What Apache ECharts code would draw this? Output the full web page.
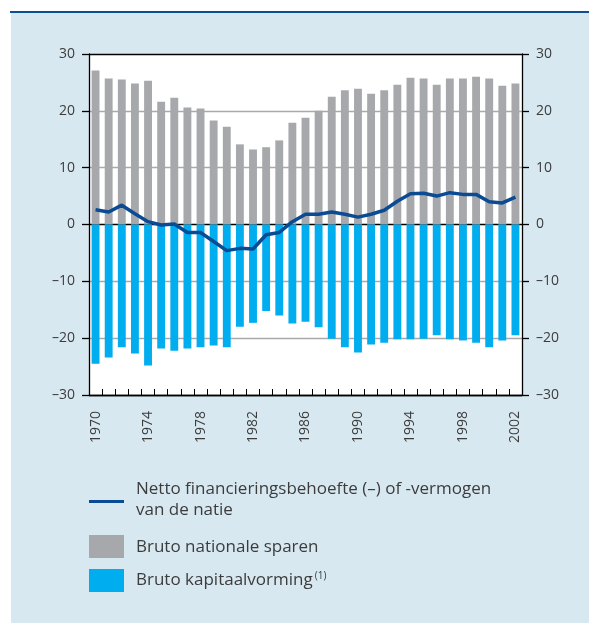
<!DOCTYPE html>
<html>
<head>
<meta charset="utf-8">
<script src="https://cdn.jsdelivr.net/npm/echarts@6/dist/echarts.min.js"></script>
<style>
html,body{margin:0;padding:0;background:#ffffff;}
#c{width:589px;height:623px;}
</style>
</head>
<body>
<div id="c"></div>
<script>
const years = [];
for (let y = 1970; y <= 2002; y++) years.push(String(y));

const brutoSparen = [27.1, 25.7, 25.5, 24.8, 25.3, 21.6, 22.3, 20.6, 20.4, 18.3, 17.2, 14.1, 13.2, 13.6, 14.8, 17.9, 18.8,
  20.0, 22.5, 23.6, 23.9, 23.0, 23.6, 24.6, 25.8, 25.7, 24.6, 25.7, 25.7, 26.0, 25.7, 24.4, 24.8];
const brutoKapitaal = [-24.5, -23.4, -21.6, -22.7, -24.8, -21.8, -22.2, -21.8, -21.6, -21.3, -21.6, -18.0, -17.3, -15.2, -16.0, -17.4, -17.1,
  -18.1, -20.1, -21.6, -22.5, -21.1, -20.8, -20.2, -20.2, -20.1, -19.5, -20.2, -20.4, -20.8, -21.6, -20.4, -19.5];
const netto = [2.6, 2.2, 3.4, 1.9, 0.5, -0.1, 0.1, -1.4, -1.4, -3.0, -4.6, -4.2, -4.3, -1.8, -1.4, 0.5, 1.8,
  1.8, 2.2, 1.8, 1.3, 1.8, 2.5, 4.1, 5.4, 5.5, 5.0, 5.6, 5.3, 5.3, 4.0, 3.8, 4.8];
const yTicks = [-30, -20, -10, 0, 10, 20, 30];

const legendNetto = 'Netto financieringsbehoefte (–) of -vermogen\nvan de natie';
const legendSparen = 'Bruto nationale sparen';
const legendKapitaal = 'Bruto kapitaalvorming';

const FONT = '"Open Sans", "Noto Sans", sans-serif';
const TXT = '#3c3c3c';
const fmt = v => String(v).replace('-', '–');

const chart = echarts.init(document.getElementById('c'), null, {renderer: 'canvas'});

const yAxisBase = {
  type: 'value', min: yTicks[0], max: yTicks[yTicks.length - 1], interval: 10,
  axisLine: {show: true, lineStyle: {color: '#000', width: 1.3}},
  axisTick: {show: true, inside: false, length: 7, lineStyle: {color: '#000', width: 1.3}},
  axisLabel: {color: TXT, fontSize: 14, fontFamily: FONT, formatter: fmt, margin: 14}
};

chart.setOption({
  animation: false,
  backgroundColor: '#ffffff',
  graphic: [
    {type: 'rect', z: -10, shape: {x: 11, y: 13, width: 578, height: 610}, style: {fill: '#d8e8f1'}},
    {type: 'rect', z: -9, shape: {x: 10, y: 11, width: 579, height: 2}, style: {fill: '#0d4f94'}},
    {type: 'rect', shape: {x: 89, y: 500, width: 35, height: 3}, style: {fill: '#0a4b94'}},
    {type: 'text', left: 136, top: 479, style: {text: legendNetto, fill: TXT, fontSize: 17, fontFamily: FONT, lineHeight: 21}},
    {type: 'rect', shape: {x: 89, y: 535, width: 35, height: 23}, style: {fill: '#a7a8ab'}},
    {type: 'text', left: 136, top: 539, style: {text: legendSparen, fill: TXT, fontSize: 17, fontFamily: FONT}},
    {type: 'rect', shape: {x: 89, y: 569, width: 35, height: 23}, style: {fill: '#00adef'}},
    {type: 'text', left: 136, top: 571, style: {
      text: '{a|' + legendKapitaal + '}{s|(1)}',
      rich: {
        a: {fill: TXT, fontSize: 17, fontFamily: FONT},
        s: {fill: TXT, fontSize: 10, fontFamily: FONT, verticalAlign: 'top', padding: [0, 0, 8, 2]}
      }
    }}
  ],
  grid: {left: 89, right: 67, top: 54, bottom: 228, show: true, backgroundColor: '#ffffff', borderWidth: 0},
  xAxis: {
    type: 'category', data: years, boundaryGap: true,
    position: 'bottom',
    axisLine: {show: true, onZero: false, lineStyle: {color: '#000', width: 1.3}},
    axisTick: {show: true, inside: true, length: 6, interval: 0, alignWithLabel: false, lineStyle: {color: '#000', width: 1}},
    axisLabel: {interval: 3, rotate: 90, color: TXT, fontSize: 14, fontFamily: FONT, margin: 16},
    splitLine: {show: false}
  },
  yAxis: [
    Object.assign({}, yAxisBase, {
      position: 'left',
      splitLine: {show: true, lineStyle: {color: ['#000', '#a9a9a9', '#a9a9a9', '#000', '#a9a9a9', '#a9a9a9', '#000'], width: 1.3}}
    }),
    Object.assign({}, yAxisBase, {position: 'right', splitLine: {show: false}})
  ],
  series: [
    {name: legendSparen, type: 'bar', stack: 'tot', data: brutoSparen, barWidth: '60%', itemStyle: {color: '#a7a8ab'}},
    {name: legendKapitaal, type: 'bar', stack: 'tot', data: brutoKapitaal, barWidth: '60%', itemStyle: {color: '#00adef'}},
    {name: 'Netto', type: 'line', data: netto, symbol: 'none', lineStyle: {color: '#0a4b94', width: 3.5}, z: 5}
  ]
});
</script>
</body>
</html>
